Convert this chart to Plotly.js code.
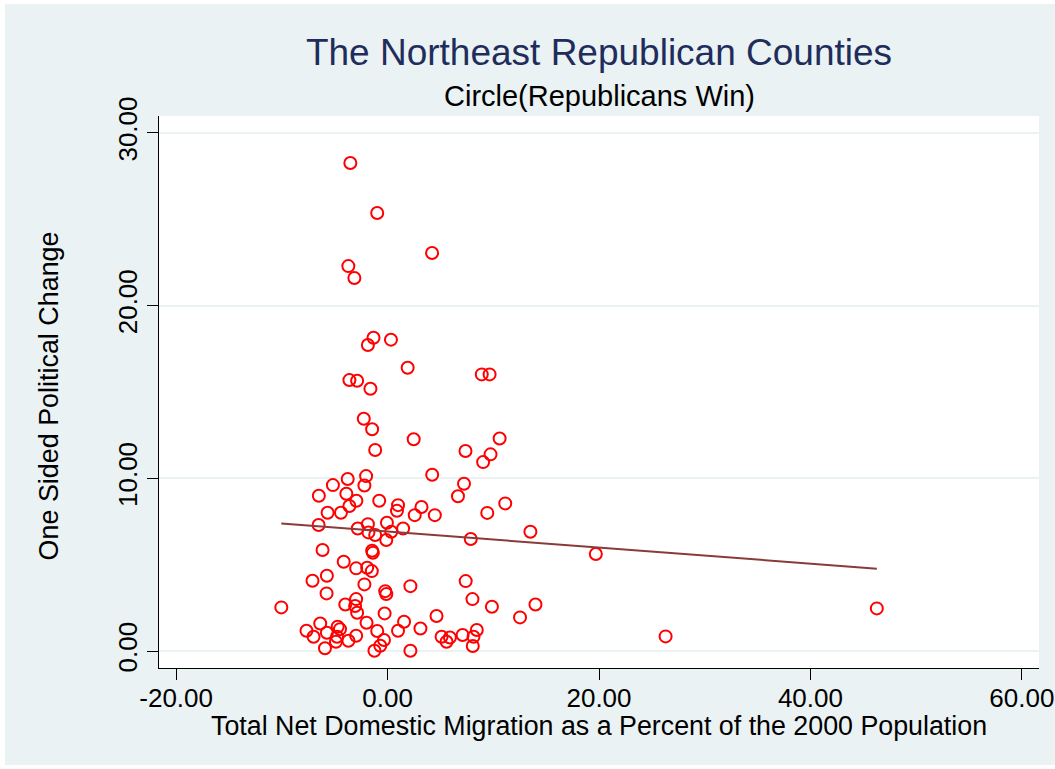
<!DOCTYPE html>
<html>
<head>
<meta charset="utf-8">
<script src="https://cdn.plot.ly/plotly-3.0.1.min.js"></script>
<style>
  html, body { margin: 0; padding: 0; background: #ffffff; }
  #chart { position: absolute; left: 5px; top: 4px; width: 1050px; height: 761px; }
</style>
</head>
<body>
<div id="chart"></div>
<script>
// Total net domestic migration (% of 2000 population)
var migration = [
  -3.52, -0.98, 4.21, -3.71, -3.14, -1.33, -1.86, 0.32, 1.90, 8.91,
  9.65, -3.61, -2.88, -1.62, -2.25, -1.46, 2.47, 10.60, -1.17, 7.37,
  9.74, 9.04, 4.22, -3.77, -2.03, -2.19, -5.17, 7.23, -6.50, -3.90,
  6.66, -2.95, -0.79, 0.99, 3.21, 11.13, 9.43, -5.67, -4.41, -3.61,
  0.89, 2.57, 4.47, -6.52, -2.82, -1.86, -1.81, -1.17, -0.06, 0.35,
  1.47, -0.12, 7.87, 13.51, -6.15, -1.46, -1.39, -4.15, -2.97, -1.93,
  -1.49, -5.74, -7.10, -2.19, 7.39, 2.16, -0.22, -0.12, -5.77, -10.05,
  -4.00, -2.97, -3.07, -2.88, -0.28, 8.03, 9.87, 13.99, 12.53, 4.63,
  -6.37, -7.67, -7.00, -5.74, -4.72, -4.50, -4.78, -4.88, -3.70, -2.97,
  -1.99, -0.98, -0.34, -0.69, -1.24, -5.92, 0.99, 1.56, 3.11, 2.16,
  5.11, 5.58, 5.90, 7.10, 8.44, 8.13, 8.06, 19.70, 26.30, 46.28
];
// One sided political change
var politicalChange = [
  28.26, 25.36, 23.05, 22.29, 21.60, 18.14, 17.72, 18.03, 16.40, 16.02,
  16.02, 15.69, 15.65, 15.19, 13.45, 12.84, 12.26, 12.31, 11.64, 11.58,
  11.39, 10.94, 10.21, 9.96, 10.13, 9.59, 9.61, 9.69, 8.99, 9.11,
  8.96, 8.70, 8.70, 8.45, 8.34, 8.55, 8.00, 8.01, 8.01, 8.40,
  8.12, 7.87, 7.87, 7.30, 7.10, 7.35, 6.87, 6.72, 7.43, 6.91,
  7.10, 6.43, 6.49, 6.91, 5.85, 5.81, 5.69, 5.17, 4.79, 4.82,
  4.63, 4.36, 4.07, 3.86, 4.05, 3.76, 3.47, 3.30, 3.34, 2.53,
  2.70, 3.01, 2.61, 2.22, 2.18, 3.01, 2.57, 2.70, 1.95, 2.03,
  1.60, 1.18, 0.83, 1.06, 1.41, 1.27, 0.83, 0.54, 0.60, 0.89,
  1.64, 1.16, 0.64, 0.31, 0.02, 0.16, 1.18, 1.70, 1.31, 0.02,
  0.83, 0.54, 0.79, 0.93, 1.22, 0.83, 0.29, 5.62, 0.85, 2.47
];
var xTicks = [-20, 0, 20, 40, 60];
var yTicks = [0, 10, 20, 30];
var xTickLabels = ["-20.00", "0.00", "20.00", "40.00", "60.00"];
var yTickLabels = ["0.00", "10.00", "20.00", "30.00"];

// Linear fit (OLS) computed from the data
function fitLine(xs, ys) {
  var n = xs.length, sx = 0, sy = 0, sxx = 0, sxy = 0;
  for (var i = 0; i < n; i++) { sx += xs[i]; sy += ys[i]; sxx += xs[i]*xs[i]; sxy += xs[i]*ys[i]; }
  var b = (n*sxy - sx*sy) / (n*sxx - sx*sx);
  var a = (sy - b*sx) / n;
  var xmin = Math.min.apply(null, xs), xmax = Math.max.apply(null, xs);
  return { x: [xmin, xmax], y: [a + b*xmin, a + b*xmax] };
}
var fit = fitLine(migration, politicalChange);

var FONT = '"Liberation Sans", Arial, Helvetica, sans-serif';

var traces = [
  {
    type: 'scatter', mode: 'markers',
    x: migration, y: politicalChange,
    marker: { symbol: 'circle-open', size: 12, color: '#ff0000', line: { width: 2, color: '#ff0000' } },
    hoverinfo: 'x+y', showlegend: false
  },
  {
    type: 'scatter', mode: 'lines',
    x: fit.x, y: fit.y,
    line: { color: '#8b3a3a', width: 2 },
    showlegend: false
  }
];

var layout = {
  width: 1050, height: 761,
  margin: { l: 154, r: 16, t: 112, b: 97, pad: 0 },
  paper_bgcolor: '#eaf2f3',
  plot_bgcolor: '#ffffff',
  font: { family: FONT, color: '#000000', size: 26 },
  showlegend: false,
  title: {
    text: 'The Northeast Republican Counties',
    font: { family: FONT, size: 37, color: '#1f2d5c' },
    x: 0.5, xref: 'paper', xanchor: 'center',
    y: 1 - 48/761, yref: 'container', yanchor: 'middle'
  },
  xaxis: {
    range: [-21.62, 61.62],
    tickvals: xTicks, ticktext: xTickLabels,
    showgrid: false, zeroline: false,
    showline: true, linecolor: '#000000', linewidth: 1,
    ticks: 'outside', ticklen: 11, tickwidth: 1, tickcolor: '#000000',
    ticklabelstandoff: -4,
    tickfont: { family: FONT, size: 26, color: '#000000' },
    fixedrange: true
  },
  yaxis: {
    range: [-0.98, 30.98],
    tickvals: yTicks, ticktext: yTickLabels,
    tickangle: -90,
    showgrid: true, gridcolor: '#eaf2f3', gridwidth: 2,
    zeroline: false,
    showline: true, linecolor: '#000000', linewidth: 1,
    ticks: 'outside', ticklen: 11, tickwidth: 1, tickcolor: '#000000',
    tickfont: { family: FONT, size: 26, color: '#000000' },
    fixedrange: true
  },
  annotations: [
    {
      text: 'Circle(Republicans Win)', showarrow: false,
      xref: 'paper', yref: 'paper', x: 0.5, y: (668 - 96) / 552,
      xanchor: 'center', yanchor: 'middle',
      font: { family: FONT, size: 29, color: '#000000' }
    },
    {
      text: 'Total Net Domestic Migration as a Percent of the 2000 Population', showarrow: false,
      xref: 'paper', yref: 'paper', x: 0.5, y: (668 - 726) / 552,
      xanchor: 'center', yanchor: 'middle',
      font: { family: FONT, size: 26.8, color: '#000000' }
    },
    {
      text: 'One Sided Political Change', showarrow: false, textangle: -90,
      xref: 'paper', yref: 'paper', x: (50 - 159) / 875, y: (668 - 396) / 552,
      xanchor: 'center', yanchor: 'middle',
      font: { family: FONT, size: 26.9, color: '#000000' }
    }
  ]
};

Plotly.newPlot('chart', traces, layout, { displayModeBar: false, staticPlot: true });
</script>
</body>
</html>
